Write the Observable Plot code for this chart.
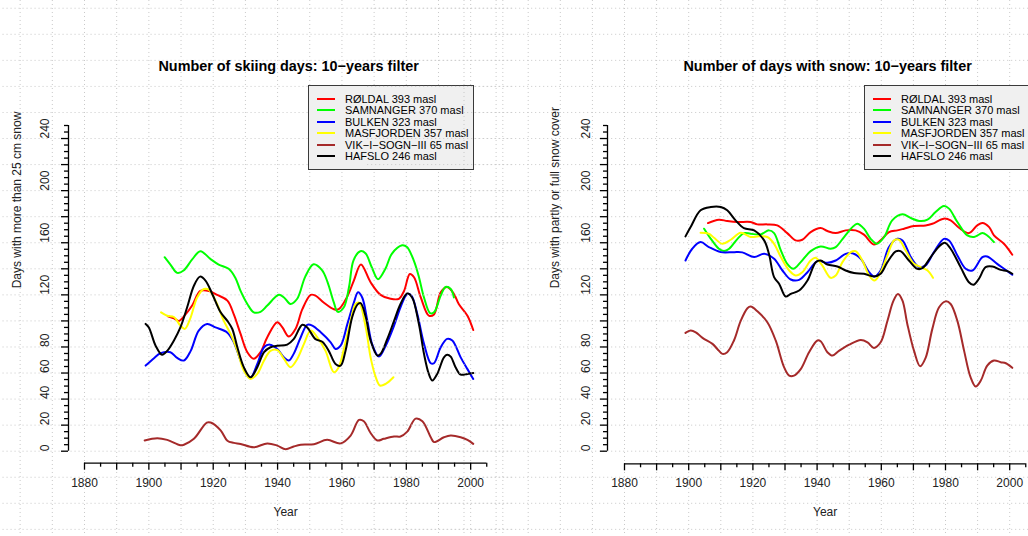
<!DOCTYPE html>
<html>
<head>
<meta charset="utf-8">
<script src="https://cdn.jsdelivr.net/npm/d3@7"></script>
<script src="https://cdn.jsdelivr.net/npm/@observablehq/plot@0.6"></script>
<style>
  html, body { margin: 0; padding: 0; background: #fff; overflow: hidden; }
  #wrap { position: relative; width: 1028px; height: 536px; display: flex; overflow: hidden; }
  .panel { position: relative; width: 514px; height: 536px; }
  .legend { position: absolute; top: 85px; height: 85px; box-sizing: border-box;
            background: #f0f0f0; border: 1px solid #3a3a3a; padding-top: 7.3px;
            font-family: "Liberation Sans", Arial, Helvetica, sans-serif; font-size: 11px; color: #000; }
  .legend .row { height: 11.4px; display: flex; align-items: center; white-space: nowrap; }
  .legend .sw { display: inline-block; width: 18px; height: 2px; margin-left: 8px; margin-right: 10px; }
</style>
</head>
<body>
<div id="wrap"></div>
<script>
// ---------- series names & colours ----------
const stationNames = ["RØLDAL 393 masl", "SAMNANGER 370 masl", "BULKEN 323 masl",
                      "MASFJORDEN 357 masl", "VIK−I−SOGN−III 65 masl", "HAFSLO 246 masl"];
const stationColors = ["#ff0000", "#00ff00", "#0000ff", "#ffff00", "#a52a2a", "#000000"];

// ---------- axes ----------
const xTickLabels = [1880, 1900, 1920, 1940, 1960, 1980, 2000];
const yTickLabels = [0, 20, 40, 60, 80, 120, 160, 200, 240];

// ---------- left panel: number of skiing days (>25 cm snow) ----------
const skiRoldalYear = [1905.9,1907.8,1909.3,1911.4,1913.5,1916,1918.7,1921.2,1924.4,1926.4,1928.5,1930.6,1932.6,1934.7,1936.8,1939.9,1941.5,1943.5,1945.6,1947.7,1950.3,1951.8,1954.4,1957.5,1959,1961.7,1963.7,1965.9,1968.9,1972,1975.1,1977.7,1979.3,1981.1,1982.4,1984.5,1987,1988.6,1990.7,1992.7,1994.8,1996.3,1999,2000.8];
const skiRoldal     = [103.6,102,100,105,112,123,123,120,115.6,105,90,76,71,76,87.5,99,95,88,94,109,120,119.4,114,109,109,119,131,143.3,129.7,120,117,117,123,136,133.5,118,104,105,122,126,120.7,113,104,93];

const skiSamnangerYear = [1904.9,1906.7,1908.8,1910.8,1913.4,1916,1919.1,1921.7,1924.8,1926.9,1928.5,1930.6,1932.6,1934.7,1936.8,1940.4,1942,1944,1946.1,1948.6,1951.2,1953.8,1955.5,1957.5,1958.7,1960.6,1962.2,1963.6,1965.7,1967.3,1969.3,1971.2,1973.5,1975.5,1978.7,1980.2,1982.3,1983.8,1985.5,1987.4,1988.6,1990.7,1992.2,1993.8,1994.8];
const skiSamnanger     = [148.9,143.3,136.9,138.7,147,153.5,147.6,143.3,140,133,123,113,106.6,107,111.8,120,118,113,117,134,143.5,139,130,114,107,110.5,126,146.5,153.5,152,141,132,140,151.5,158,156.7,146.5,134.9,118,106,106.6,119.4,126,124.5,118];

const skiBulkenYear = [1899,1901.6,1903.6,1906.7,1908.8,1910.9,1913,1915.5,1918.1,1920.7,1924.4,1926.4,1928.5,1930.6,1931.6,1933.7,1935.8,1937.6,1939.9,1942,1943.5,1945,1947.2,1949.2,1950.8,1953.4,1956.5,1958,1959.6,1961.7,1963.7,1965,1966.3,1967.9,1969.4,1971.5,1973.6,1976.2,1978.2,1980.3,1981.6,1983.4,1985.5,1987.6,1988.6,1990.7,1992.7,1994.3,1996.9,1999,2000.8];
const skiBulken     = [65.7,71.4,75.2,76,71.6,69.6,77,92.6,97.7,95,91,83.6,69.6,58,56.3,67,79.8,81.8,78.5,72,69.6,74.7,87.5,97,96.4,91.3,83.6,78.5,81,97.7,114,122,118,100,82,72.6,81,96.4,110.5,120.7,119.4,105.4,82.4,67.5,67.5,79.8,86.2,85,72,63,55.5];

const skiMasfjordenYear = [1903.8,1905.7,1907.8,1909.8,1911.2,1913,1915,1917.1,1918.7,1921.2,1923.3,1925.4,1927.5,1929.5,1931.6,1933.7,1935.8,1937.8,1939.9,1942,1944,1946.1,1948.2,1950.3,1952.3,1954.9,1957.5,1959,1960.6,1962.7,1964.2,1965.3,1967.4,1968.9,1970.5,1971.8,1973.6,1976];
const skiMasfjorden     = [106.6,104,103,96.4,93.9,102.8,118,124.5,123.8,113,100,90,77,62,55.5,59.3,69.6,77,77.7,70.8,64.5,70.8,82.4,92.6,87.5,77,60.6,64.5,78.5,100,113,114,95,72,56.8,50.4,51.7,56.8];

const skiVikYear = [1898.7,1902.6,1905.7,1909.8,1910.9,1914,1918,1919.2,1922.3,1924.4,1926.4,1928.5,1932.6,1936.8,1939.9,1942.5,1945,1947.2,1951.3,1955.4,1959.6,1962.7,1965.3,1966.8,1968.9,1971,1973,1976.2,1978.2,1980.3,1982.9,1985,1987.6,1988.6,1991.7,1993.8,1996.9,1999,2000.8];
const skiVik     = [8.2,10,8.7,4.6,5,9.5,22,22,16,8,6.4,5.6,3,6,4.3,1.5,3.6,5,5.4,8.7,6,12,24,23,14,8.2,9.5,11.3,11.3,15,25,23,10.7,7,10.7,12,10.7,8.7,5.6];

const skiHafsloYear = [1899,1900,1902.1,1904.1,1905.7,1907.8,1909.8,1911.9,1914,1915.9,1917.6,1919.7,1922.3,1924.4,1925.9,1927.5,1929.5,1931.6,1933.7,1935.8,1937.8,1939.9,1943,1945,1947.7,1949.2,1951.8,1953.9,1955.9,1958,1959.6,1961.1,1963.2,1964.8,1965.8,1967.4,1968.9,1971,1972,1974.1,1976.2,1978.2,1980.3,1981.8,1983.9,1985.5,1987,1988.1,1989.6,1991.7,1992.7,1993.8,1995.3,1996.9,1999,2000.8];
const skiHafslo     = [97.7,95,81,74,77,85,95,110.5,127,134,131,120.7,106.6,100,94,79.8,64.5,56.8,64.5,76,79.8,81,81.8,86,97,95,86,84,77,67,65.7,77,103,112.5,113.6,103,85,73.4,74.7,86.2,100,113,121,118,97.7,74.7,59.3,54.2,59.3,72,74,72.6,64.5,58.8,59.3,60];

// ---------- right panel: number of days with snow ----------
const snowRoldalYear = [1906,1909.4,1912,1915.2,1919.3,1921.4,1924.5,1927.6,1930.7,1933.3,1935.4,1938,1941.1,1943.2,1945.8,1948.9,1952,1954.6,1957.7,1959.8,1962.4,1965,1967.1,1970.2,1973.8,1975.9,1979.5,1981.6,1984.2,1987.3,1989.9,1991.5,1993.6,1995.1,1998.2,2000.8];
const snowRoldal     = [175.1,177.7,176.7,175.9,175.9,174.1,174.1,173.3,167.4,161.8,162.3,168.2,171.3,169,167.4,169.5,169.5,166.2,158.7,161.8,168.2,169.5,170.8,172.8,173.3,174.6,178.5,177.2,171.5,167.4,173.3,175.1,172,165.6,159.2,150.8];

const snowSamnangerYear = [1904.8,1906.9,1909.4,1911,1912.6,1915.2,1917.2,1919.3,1922.4,1925,1926.6,1928.7,1930.7,1932.6,1934.9,1938,1941.1,1944.2,1945.8,1948.4,1951,1952.5,1954.6,1956.7,1958.6,1960.9,1963.4,1966.6,1969.2,1971.8,1974.4,1976.9,1979.5,1981.1,1983.7,1986.8,1988.9,1991.5,1993,1995.1];
const snowSamnanger     = [170.8,163,155.4,153.6,155.4,163,167.4,166.9,166.4,169.5,167.4,154.1,143.8,140,145.1,153.6,157.2,155.4,156.7,164.4,172,174.6,170.8,163,159.2,164.4,177.2,181.8,179,176.7,177.7,183.6,188.2,186.2,175.9,165.6,164.4,167.4,165.6,160.5];

const snowBulkenYear = [1899,1901.1,1903.7,1906.3,1910,1914.1,1916.7,1920.4,1923.5,1926.6,1929.2,1931.8,1934.4,1937,1940.1,1943.2,1945.8,1948.9,1951,1953.6,1956.2,1957.9,1959.8,1962.4,1965,1966.6,1969.2,1971.8,1973.8,1976.4,1979.5,1981.1,1983.7,1986.3,1988.4,1991.5,1993,1996.1,1998.7,2000.8];
const snowBulken     = [146.4,155.4,160.5,156.7,152.8,152.8,152.6,149,151.5,147.7,138.7,131.8,131.5,137.4,145.9,144.6,146.4,151.5,152,147.7,137.4,134.1,138.7,156.7,163,161.8,149,141.3,142.6,152.8,163,161.8,150.3,140,138.7,149,149.5,143.8,139.2,135.4];

const snowMasfjordenYear = [1903.7,1906.3,1907.9,1910.5,1913.1,1916.2,1919.3,1921.9,1924.5,1926.6,1928.7,1931.3,1933.3,1935.4,1938,1939.5,1941.6,1944.2,1945.8,1947.9,1950.5,1952,1954.1,1956.2,1957.9,1959.8,1961.9,1964,1965.5,1967.6,1970.2,1972.3,1974.4,1976.1];
const snowMasfjorden     = [167.7,166.9,163.8,159.2,162.3,167.7,164.4,164.9,164.4,159.2,149,138.7,134.9,137.4,146.4,148.5,142.6,133.1,134.9,145.1,152.8,153.6,146.4,134.9,131,137.4,150.3,161.8,162.3,154.1,143.8,141.3,138.7,133.1];

const snowVikYear = [1899,1900.6,1902.2,1904.3,1907.4,1908.9,1910.5,1912,1914.1,1916.2,1918.3,1919.3,1921.4,1924.5,1927.1,1929.7,1931.3,1932.8,1934.9,1937.5,1940.1,1941.1,1943.2,1944.8,1946.8,1950,1953.6,1955.7,1957.7,1959.8,1961.9,1963.8,1965.2,1966.6,1968.1,1970.2,1972.1,1973.8,1975.9,1978,1980.1,1981.6,1983.7,1985.8,1987.8,1989.4,1991,1993,1995.1,1997.2,1998.8,2000.8];
const snowVik     = [90.8,92.6,91.3,87,82.4,78.5,74.7,76,85,100,109.7,111,107.4,99,85,64.5,58,58,63,76,85,84.4,76,73.4,77,81.8,85.4,83.6,79.3,83.6,100,115.6,120.7,115.6,97.7,77,65.2,71.6,93.9,110.5,115,113,100,77,56.8,49.6,54.2,65.7,69.6,68.3,67.5,64];

const snowHafsloYear = [1899,1900.6,1903.7,1906.9,1910,1912,1914.6,1917.2,1920.4,1923.5,1925,1926.6,1928.2,1930.2,1931.8,1934.4,1937,1939.6,1941.1,1943.2,1946.3,1948.9,1951.5,1954.6,1957.7,1959.8,1961.9,1964.5,1966,1968.6,1971.2,1972.8,1975.4,1978,1979.8,1981.6,1984.7,1987.3,1988.7,1990.4,1992.5,1994.6,1997.2,1999.3,2000.8];
const snowHafslo     = [164.9,172,184.9,187.4,187.4,184.9,177.2,171.3,169.5,161.8,151.5,133.6,128.4,118.7,120.7,123.3,131,145.1,146.4,143.3,141.8,138.7,136.7,136.2,134.1,136.2,145.1,153.3,153.6,146.4,140,140.5,149,157.2,160,155.4,141.3,129.7,127.7,132.3,141.3,141.8,139.2,138.2,136.2];

// ---------- assemble ----------
const skiSeries = [
  [skiRoldalYear, skiRoldal], [skiSamnangerYear, skiSamnanger], [skiBulkenYear, skiBulken],
  [skiMasfjordenYear, skiMasfjorden], [skiVikYear, skiVik], [skiHafsloYear, skiHafslo]
];
const snowSeries = [
  [snowRoldalYear, snowRoldal], [snowSamnangerYear, snowSamnanger], [snowBulkenYear, snowBulken],
  [snowMasfjordenYear, snowMasfjorden], [snowVikYear, snowVik], [snowHafsloYear, snowHafslo]
];

const FONT = '"Liberation Sans", Arial, Helvetica, sans-serif';

function makePanel(cfg) {
  const lineMarks = cfg.series.map(([yrs, vals], i) =>
    Plot.line(yrs.map((yr, j) => ({year: yr, value: vals[j]})),
      {x: "year", y: "value", stroke: stationColors[i], strokeWidth: 2, curve: "catmull-rom"}));
  const gridYears = d3.range(1830, 2061, 10);
  const gridVals = d3.range(-100, 401, 20);
  const plot = Plot.plot({
    width: 514, height: 536,
    marginLeft: cfg.marginLeft, marginRight: cfg.marginRight,
    marginTop: 125, marginBottom: 85.3,
    x: {domain: [1880, 2005], label: null},
    y: {domain: [0, 250], label: null},
    style: {fontFamily: FONT, fontSize: "12px", background: "#fff", color: "#000", overflow: "visible"},
    marks: [
      Plot.ruleX(gridYears, {x: d => d, y1: -100, y2: 400, stroke: "#c8c8c8", strokeDasharray: "1,3"}),
      Plot.ruleY(gridVals, {y: d => d, x1: 1800, x2: 2100, stroke: "#c8c8c8", strokeDasharray: "1,3"}),
      // axis lines
      Plot.ruleX([1880], {y1: 0, y2: 250, dx: cfg.axisDx, stroke: "#000", strokeWidth: 1.3}),
      Plot.ruleY([0], {x1: 1880, x2: 2005, dy: cfg.axisDy, stroke: "#000", strokeWidth: 1.3}),
      // ticks
      Plot.axisX({ticks: d3.range(1880, 2006, 10), tickSize: 7, dy: cfg.axisDy, fill: "none", strokeWidth: 1.3, label: null}),
      Plot.axisX({ticks: d3.range(1885, 2006, 10), tickSize: 4, dy: cfg.axisDy, fill: "none", strokeWidth: 1.3, label: null}),
      Plot.axisY({ticks: d3.range(0, 251, 20), tickSize: 7, dx: cfg.axisDx, fill: "none", strokeWidth: 1.3, label: null}),
      Plot.axisY({ticks: d3.range(0, 251, 5).filter(v => v % 20 !== 0), tickSize: 4, dx: cfg.axisDx, fill: "none", strokeWidth: 1.3, label: null}),
      // tick labels
      Plot.text(xTickLabels, {x: d => d, text: d => String(d), frameAnchor: "bottom", dy: 36, fill: "#222"}),
      Plot.text(yTickLabels, {y: d => d, text: d => String(d), frameAnchor: "left", dx: cfg.yTickDx, rotate: -90, fill: "#222"}),
      // data
      ...lineMarks,
      // titles
      Plot.text([cfg.title], {text: d => d, frameAnchor: "top", dy: -65, dx: cfg.titleDx, fontWeight: "bold", fontSize: 14.4, fill: "#000"}),
      Plot.text([cfg.ylabel], {text: d => d, frameAnchor: "left", dx: cfg.ylabDx, rotate: -90, fill: "#222"}),
      Plot.text(["Year"], {text: d => d, frameAnchor: "bottom", dy: 65, fill: "#222"})
    ]
  });
  const div = document.createElement("div");
  div.className = "panel";
  div.appendChild(plot);
  const lg = document.createElement("div");
  lg.className = "legend";
  lg.style.left = cfg.legendLeft + "px";
  lg.style.width = cfg.legendWidth + "px";
  stationNames.forEach((nm, i) => {
    const row = document.createElement("div");
    row.className = "row";
    const sw = document.createElement("span");
    sw.className = "sw";
    sw.style.background = stationColors[i];
    row.appendChild(sw);
    row.appendChild(document.createTextNode(nm));
    lg.appendChild(row);
  });
  div.appendChild(lg);
  return div;
}

const wrap = document.getElementById("wrap");
wrap.appendChild(makePanel({
  series: skiSeries, title: "Number of skiing days: 10−years filter",
  ylabel: "Days with more than 25 cm snow",
  marginLeft: 84, marginRight: 27.75, axisDx: -16, axisDy: 12, yTickDx: -39, ylabDx: -67,
  titleDx: 3, legendLeft: 308, legendWidth: 166
}));
wrap.appendChild(makePanel({
  series: snowSeries, title: "Number of days with snow: 10−years filter",
  ylabel: "Days with partly or full snow cover",
  marginLeft: 110, marginRight: 2.75, axisDx: -17, axisDy: 12.6, yTickDx: -38.3, ylabDx: -69,
  titleDx: 2.5, legendLeft: 350, legendWidth: 190
}));
</script>
</body>
</html>
